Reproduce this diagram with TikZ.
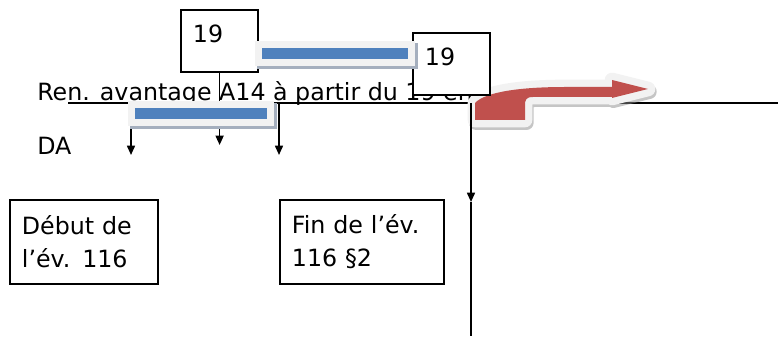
\documentclass[tikz,border=0pt]{standalone}
\usepackage{fontspec}
\setmainfont{DejaVu Sans}
\usetikzlibrary{arrows.meta}
\definecolor{barblue}{RGB}{79,129,189}
\definecolor{arrowred}{RGB}{192,80,77}
\definecolor{glowgray}{RGB}{242,242,242}
\definecolor{shadowgray}{RGB}{165,175,190}

\begin{document}
\begin{tikzpicture}[x=0.75pt, y=-0.75pt,
    every node/.style={font=\fontsize{17.8pt}{24.75pt}\selectfont},
    numbox/.style={draw, line width=1.4pt, fill=white, anchor=north west, inner xsep=9pt, inner ysep=0pt,
      text width=40pt, align=left, text height=24.75pt, text depth=21.75pt},
    textbox/.style={draw, line width=1.4pt, anchor=north west, inner xsep=9pt, align=left, minimum height=63pt},
    tick/.style={line width=1.2pt, -{Triangle[length=7pt, width=6pt]}},
    bar/.style={fill=barblue,
      preaction={draw=shadowgray, line width=11pt, transform canvas={shift={(2pt,-2pt)}}},
      preaction={draw=glowgray, line width=11pt}},
  ]
    \useasboundingbox (0,0) rectangle (779,338);
    \coordinate (lineL) at (68,103);
    \coordinate (lineR) at (778,103);
    \draw [line width=1.2pt] (lineL) -- (lineR);
    \node [anchor=base west, inner sep=0pt] (ren) at (37,101) {Ren. avantage A14 à partir du 19 en};
    \node [anchor=base west, inner sep=0pt] (da) at (37,155) {DA};
    \path [fill=arrowred,
      preaction={draw=black!45, line width=11pt, line join=round, opacity=.5, transform canvas={shift={(1pt,-2pt)}}},
      preaction={draw=glowgray, line width=11pt, line join=round}]
      (475,120) -- (475,103) .. controls (485,92) and (520,87) .. (565,87) -- (612,87) -- (612,80)
      -- (648,89) -- (612,98) -- (612,97) -- (533,97) .. controls (526,97) and (525,100) .. (525,105)
      -- (525,120) -- cycle;
    \node [numbox] (top19) at (180,9) {19};
    \node [numbox] (right19) at (412,32) {19};
    \node [textbox, text width=93pt] (debut) at (9,199) {Début de\\l’év. 116};
    \node [textbox, text width=105pt] (fin) at (279,199) {Fin de l’év.\\116 §2};
    \coordinate (tickA) at (131,103);
    \coordinate (tickA2) at (131,155);
    \coordinate (tickB) at (top19.south |- 0,145);
    \coordinate (tickC) at (279,103);
    \coordinate (tickC2) at (279,155);
    \draw [tick] (tickA) -- (tickA2);
    \draw [tick] (top19) -- (tickB);
    \draw [tick] (tickC) -- (tickC2);
    \path [bar] (262,48) rectangle (408,59);
    \path [bar] (135,108) rectangle (267,119);
    \coordinate (cut) at (471,103);
    \coordinate (cutM) at (471,202);
    \coordinate (cutE) at (471,336);
    \draw [tick] (cut) -- (cutM);
    \draw [line width=1.2pt] (cutM) -- (cutE);
\end{tikzpicture}
\end{document}
